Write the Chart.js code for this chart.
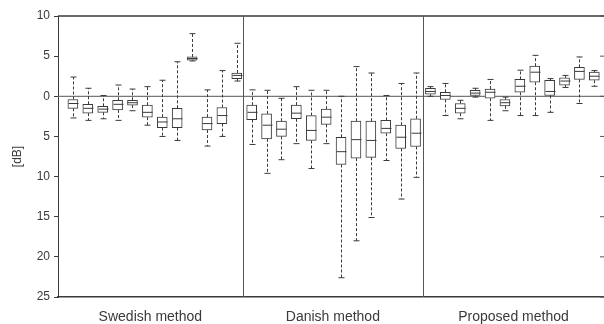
<!DOCTYPE html>
<html>
<head>
<meta charset="utf-8">
<script src="https://cdn.jsdelivr.net/npm/chart.js@4/dist/chart.umd.min.js"></script>
<style>
  html, body { margin: 0; padding: 0; background: #fff; overflow: hidden; }
  #wrap { width: 604px; height: 324px; }
</style>
</head>
<body>
<div id="wrap"><canvas id="boxChart" width="604" height="324"></canvas></div>
<script>
// gia tri doc tu hinh (dB, duong = tren 0)
const groupNames = ["Swedish method", "Danish method", "Proposed method"];
const groupEdges = [-1, 11.4, 23.5, 35.65]; // ranh gioi giua cac nhom
const yTicks = [10, 5, 0, -5, -10, -15, -20, -25];

const maxs = [2.4, 1.0, 0.1, 1.4, 0.9, 1.2, 2.0, 4.3, 7.8, 0.8, 3.2, 6.6,
  0.8, 0.75, -0.25, 1.2, 0.75, 0.75, 0.0, 3.7, 2.9, 0.1, 1.6, 2.9,
  1.2, 1.6, -0.5, 1.0, 2.1, -0.1, 3.25, 5.1, 2.2, 2.6, 4.9, 3.2];
const q3s = [-0.4, -1.0, -1.25, -0.5, -0.5, -1.1, -2.6, -1.5, 4.9, -2.6, -1.4, 2.9,
  -1.1, -2.2, -3.1, -1.1, -2.4, -1.6, -5.1, -3.1, -3.1, -3.0, -3.6, -2.8,
  1.0, 0.5, -0.9, 0.75, 0.9, -0.4, 2.1, 3.75, 2.0, 2.3, 3.6, 3.0];
const medians = [-0.9, -1.5, -1.6, -1.0, -0.8, -2.0, -3.2, -2.8, 4.7, -3.4, -2.4, 2.6,
  -2.0, -3.6, -4.1, -2.1, -4.25, -2.6, -6.9, -5.4, -5.5, -4.0, -5.1, -4.6,
  0.6, 0.1, -1.5, 0.4, 0.5, -0.8, 1.25, 3.0, 0.6, 1.9, 3.1, 2.5];
const q1s = [-1.5, -2.1, -2.0, -1.7, -1.1, -2.6, -3.9, -3.9, 4.5, -4.2, -3.4, 2.2,
  -2.9, -5.3, -5.0, -2.8, -5.5, -3.5, -8.5, -7.7, -7.6, -4.6, -6.5, -6.25,
  0.25, -0.4, -2.1, 0.1, -0.25, -1.2, 0.5, 1.75, 0.1, 1.4, 2.1, 2.0];
const mins = [-2.7, -3.0, -2.8, -3.0, -1.8, -3.6, -5.0, -5.5, 4.4, -6.2, -5.0, 1.9,
  -6.0, -9.6, -7.9, -5.9, -9.0, -5.9, -22.6, -18.0, -15.1, -8.0, -12.8, -10.1,
  0.0, -2.4, -2.8, -0.1, -3.0, -1.8, -2.4, -2.4, -2.0, 1.1, -0.9, 1.25];

const lineColor = "#3a3a3a";
const textColor = "#3a3a3a";

// khung, duong 0 va vach chia nhom
const framePlugin = {
  id: "frame",
  beforeDatasetsDraw(chart) {
    const ctx = chart.ctx;
    const x = chart.scales.x;
    const y = chart.scales.y;
    const area = chart.chartArea;
    ctx.save();
    ctx.strokeStyle = lineColor;
    ctx.lineWidth = 1.5;
    ctx.beginPath();
    ctx.moveTo(area.left, y.getPixelForValue(10));
    ctx.lineTo(area.right, y.getPixelForValue(10));
    ctx.stroke();

    ctx.strokeStyle = "#777";
    ctx.lineWidth = 1.3;
    ctx.beginPath();
    ctx.moveTo(area.left, y.getPixelForValue(0));
    ctx.lineTo(area.right, y.getPixelForValue(0));
    ctx.stroke();

    ctx.strokeStyle = "#555";
    ctx.lineWidth = 1;
    for (let i = 1; i < groupEdges.length - 1; i++) {
      const px = Math.round(x.getPixelForValue(groupEdges[i])) + 0.5;
      ctx.beginPath();
      ctx.moveTo(px, area.top);
      ctx.lineTo(px, area.bottom);
      ctx.stroke();
    }
    // vach nho ben phai
    yTicks.forEach((v) => {
      const py = y.getPixelForValue(v);
      ctx.beginPath();
      ctx.moveTo(area.right - 4, py);
      ctx.lineTo(area.right, py);
      ctx.stroke();
    });
    ctx.restore();
  },
  afterDatasetsDraw(chart) {
    // rau (whisker) va trung vi
    const ctx = chart.ctx;
    const x = chart.scales.x;
    const y = chart.scales.y;
    ctx.save();
    ctx.strokeStyle = lineColor;
    ctx.lineWidth = 1;
    for (let i = 0; i < medians.length; i++) {
      const px = Math.round(x.getPixelForValue(i)) + 0.5;
      const half = 5;
      const cap = 3;
      ctx.setLineDash([3, 2]);
      ctx.beginPath();
      ctx.moveTo(px, y.getPixelForValue(q3s[i]));
      ctx.lineTo(px, y.getPixelForValue(maxs[i]));
      ctx.moveTo(px, y.getPixelForValue(q1s[i]));
      ctx.lineTo(px, y.getPixelForValue(mins[i]));
      ctx.stroke();
      ctx.setLineDash([]);
      ctx.beginPath();
      ctx.moveTo(px - cap, y.getPixelForValue(maxs[i]));
      ctx.lineTo(px + cap, y.getPixelForValue(maxs[i]));
      ctx.moveTo(px - cap, y.getPixelForValue(mins[i]));
      ctx.lineTo(px + cap, y.getPixelForValue(mins[i]));
      ctx.moveTo(px - half, y.getPixelForValue(medians[i]));
      ctx.lineTo(px + half, y.getPixelForValue(medians[i]));
      ctx.stroke();
    }
    ctx.restore();
  },
};

const boxData = medians.map((m, i) => ({ x: i, y: [q1s[i], q3s[i]] }));
const groupMids = [];
for (let i = 0; i < groupNames.length; i++) {
  groupMids.push((groupEdges[i] + groupEdges[i + 1]) / 2);
}

const ctx = document.getElementById("boxChart").getContext("2d");
new Chart(ctx, {
  type: "bar",
  data: {
    datasets: [
      {
        label: "box",
        data: boxData,
        backgroundColor: "#fff",
        borderColor: lineColor,
        borderWidth: 1,
        borderSkipped: false,
        barThickness: 10,
      },
    ],
  },
  plugins: [framePlugin],
  options: {
    responsive: false,
    animation: false,
    layout: { padding: { top: 16, right: 0, bottom: 0, left: 0 } },
    plugins: {
      legend: { display: false },
      tooltip: { enabled: false },
    },
    scales: {
      x: {
        type: "linear",
        offset: false,
        min: groupEdges[0],
        max: groupEdges[groupEdges.length - 1],
        grid: { display: false },
        border: { display: true, color: lineColor, width: 1.5 },
        afterBuildTicks: (axis) => {
          axis.ticks = groupMids.map((v) => ({ value: v }));
        },
        afterFit: (scale) => {
          scale.height = 27;
        },
        ticks: {
          autoSkip: false,
          maxRotation: 0,
          padding: 4,
          color: textColor,
          font: { family: "Liberation Sans, Arial, sans-serif", size: 14 },
          callback: (v, i) => groupNames[i],
        },
      },
      y: {
        min: -25,
        max: 10,
        afterBuildTicks: (axis) => {
          axis.ticks = yTicks.map((v) => ({ value: v }));
        },
        afterFit: (scale) => {
          scale.width = 58;
        },
        grid: { drawOnChartArea: false, tickLength: 4, color: lineColor },
        border: { display: true, color: lineColor, width: 1 },
        title: {
          display: true,
          text: "[dB]",
          color: textColor,
          padding: { top: 10, bottom: 2 },
          font: { family: "Liberation Sans, Arial, sans-serif", size: 12 },
        },
        ticks: {
          padding: 4,
          color: textColor,
          font: { family: "Liberation Sans, Arial, sans-serif", size: 12 },
          callback: (v) => Math.abs(v),
        },
      },
    },
  },
});
</script>
</body>
</html>
